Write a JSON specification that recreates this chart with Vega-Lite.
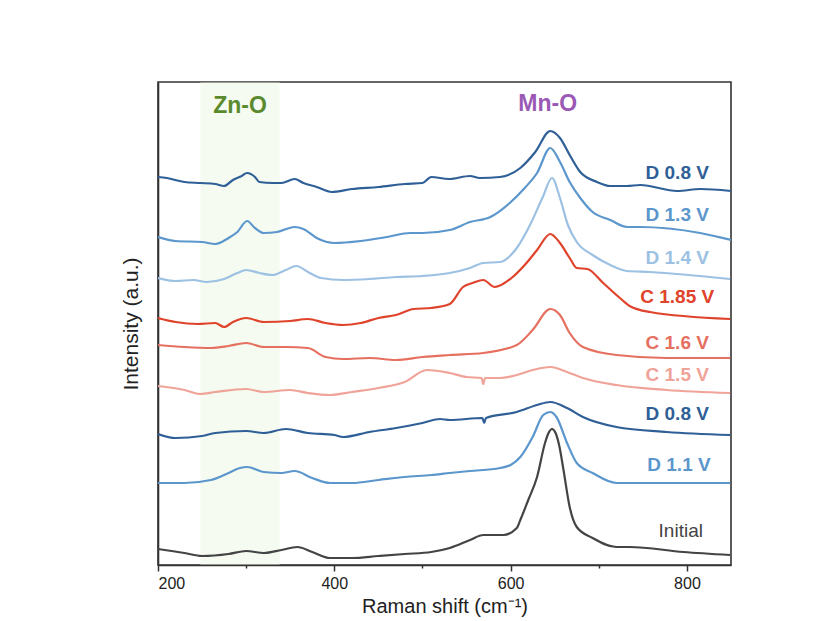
{
  "$schema": "https://vega.github.io/schema/vega-lite/v6.json",
  "width": 573,
  "height": 483,
  "autosize": {"type": "none"},
  "padding": {"left": 158, "top": 82, "right": 101, "bottom": 56},
  "background": "white",
  "config": {
    "font": "Liberation Sans",
    "view": {"stroke": "#333333", "strokeWidth": 1.6},
    "axis": {"domainColor": "#333333", "domainWidth": 1.6, "tickColor": "#333333", "labelColor": "#222222", "titleColor": "#222222", "grid": false}
  },
  "datasets": {
    "spectra": [
      {"s": "a", "x": 200, "y": 388}, {"s": "a", "x": 210, "y": 387}, {"s": "a", "x": 230, "y": 383}, {"s": "a", "x": 248, "y": 382}, {"s": "a", "x": 265, "y": 381}, {"s": "a", "x": 275, "y": 379}, {"s": "a", "x": 285, "y": 385}, {"s": "a", "x": 295, "y": 389}, {"s": "a", "x": 301, "y": 392}, {"s": "a", "x": 310, "y": 388}, {"s": "a", "x": 315, "y": 383}, {"s": "a", "x": 330, "y": 382}, {"s": "a", "x": 340, "y": 382}, {"s": "a", "x": 355, "y": 386}, {"s": "a", "x": 365, "y": 382}, {"s": "a", "x": 380, "y": 378}, {"s": "a", "x": 397, "y": 373}, {"s": "a", "x": 420, "y": 376}, {"s": "a", "x": 450, "y": 378}, {"s": "a", "x": 480, "y": 381}, {"s": "a", "x": 500, "y": 382}, {"s": "a", "x": 510, "y": 388}, {"s": "a", "x": 530, "y": 386}, {"s": "a", "x": 554, "y": 389}, {"s": "a", "x": 565, "y": 387}, {"s": "a", "x": 588, "y": 388}, {"s": "a", "x": 611, "y": 397}, {"s": "a", "x": 628, "y": 413}, {"s": "a", "x": 645, "y": 434}, {"s": "a", "x": 656, "y": 427}, {"s": "a", "x": 667, "y": 410}, {"s": "a", "x": 679, "y": 393}, {"s": "a", "x": 698, "y": 383}, {"s": "a", "x": 713, "y": 379}, {"s": "a", "x": 732, "y": 379}, {"s": "a", "x": 747, "y": 380}, {"s": "a", "x": 789, "y": 374}, {"s": "a", "x": 815, "y": 376}, {"s": "a", "x": 850, "y": 374},

      {"s": "b", "x": 200, "y": 328}, {"s": "b", "x": 220, "y": 324}, {"s": "b", "x": 250, "y": 323}, {"s": "b", "x": 265, "y": 321}, {"s": "b", "x": 280, "y": 327}, {"s": "b", "x": 290, "y": 333}, {"s": "b", "x": 301, "y": 344}, {"s": "b", "x": 310, "y": 337}, {"s": "b", "x": 320, "y": 332}, {"s": "b", "x": 335, "y": 333}, {"s": "b", "x": 355, "y": 338}, {"s": "b", "x": 365, "y": 336}, {"s": "b", "x": 380, "y": 327}, {"s": "b", "x": 400, "y": 322}, {"s": "b", "x": 430, "y": 324}, {"s": "b", "x": 460, "y": 328}, {"s": "b", "x": 486, "y": 332}, {"s": "b", "x": 500, "y": 332}, {"s": "b", "x": 531, "y": 335}, {"s": "b", "x": 554, "y": 343}, {"s": "b", "x": 577, "y": 348}, {"s": "b", "x": 599, "y": 362}, {"s": "b", "x": 616, "y": 377}, {"s": "b", "x": 630, "y": 392}, {"s": "b", "x": 645, "y": 417}, {"s": "b", "x": 656, "y": 403}, {"s": "b", "x": 667, "y": 383}, {"s": "b", "x": 679, "y": 367}, {"s": "b", "x": 693, "y": 353}, {"s": "b", "x": 713, "y": 345}, {"s": "b", "x": 732, "y": 338}, {"s": "b", "x": 747, "y": 338}, {"s": "b", "x": 815, "y": 332}, {"s": "b", "x": 850, "y": 325},

      {"s": "c", "x": 200, "y": 287}, {"s": "c", "x": 220, "y": 284}, {"s": "c", "x": 240, "y": 285}, {"s": "c", "x": 255, "y": 283}, {"s": "c", "x": 275, "y": 286}, {"s": "c", "x": 290, "y": 292}, {"s": "c", "x": 300, "y": 295}, {"s": "c", "x": 315, "y": 292}, {"s": "c", "x": 330, "y": 290}, {"s": "c", "x": 345, "y": 295}, {"s": "c", "x": 357, "y": 299}, {"s": "c", "x": 370, "y": 293}, {"s": "c", "x": 385, "y": 287}, {"s": "c", "x": 410, "y": 285}, {"s": "c", "x": 440, "y": 286}, {"s": "c", "x": 470, "y": 288}, {"s": "c", "x": 500, "y": 289}, {"s": "c", "x": 531, "y": 292}, {"s": "c", "x": 554, "y": 297}, {"s": "c", "x": 569, "y": 302}, {"s": "c", "x": 588, "y": 303}, {"s": "c", "x": 607, "y": 317}, {"s": "c", "x": 622, "y": 340}, {"s": "c", "x": 636, "y": 367}, {"s": "c", "x": 647, "y": 387}, {"s": "c", "x": 656, "y": 367}, {"s": "c", "x": 665, "y": 340}, {"s": "c", "x": 675, "y": 323}, {"s": "c", "x": 693, "y": 310}, {"s": "c", "x": 713, "y": 300}, {"s": "c", "x": 732, "y": 294}, {"s": "c", "x": 758, "y": 293}, {"s": "c", "x": 849, "y": 286},

      {"s": "d", "x": 200, "y": 247}, {"s": "d", "x": 220, "y": 243}, {"s": "d", "x": 245, "y": 241}, {"s": "d", "x": 265, "y": 242}, {"s": "d", "x": 275, "y": 238}, {"s": "d", "x": 285, "y": 243}, {"s": "d", "x": 300, "y": 247}, {"s": "d", "x": 320, "y": 243}, {"s": "d", "x": 350, "y": 244}, {"s": "d", "x": 370, "y": 246}, {"s": "d", "x": 390, "y": 242}, {"s": "d", "x": 410, "y": 240}, {"s": "d", "x": 430, "y": 242}, {"s": "d", "x": 450, "y": 247}, {"s": "d", "x": 470, "y": 250}, {"s": "d", "x": 490, "y": 256}, {"s": "d", "x": 510, "y": 257}, {"s": "d", "x": 531, "y": 261}, {"s": "d", "x": 546, "y": 278}, {"s": "d", "x": 557, "y": 282}, {"s": "d", "x": 569, "y": 285}, {"s": "d", "x": 582, "y": 278}, {"s": "d", "x": 601, "y": 287}, {"s": "d", "x": 616, "y": 300}, {"s": "d", "x": 630, "y": 315}, {"s": "d", "x": 645, "y": 331}, {"s": "d", "x": 656, "y": 322}, {"s": "d", "x": 667, "y": 307}, {"s": "d", "x": 675, "y": 297}, {"s": "d", "x": 687, "y": 296}, {"s": "d", "x": 705, "y": 282}, {"s": "d", "x": 724, "y": 267}, {"s": "d", "x": 735, "y": 259}, {"s": "d", "x": 758, "y": 253}, {"s": "d", "x": 849, "y": 246},

      {"s": "e", "x": 200, "y": 220}, {"s": "e", "x": 230, "y": 218}, {"s": "e", "x": 260, "y": 217}, {"s": "e", "x": 280, "y": 219}, {"s": "e", "x": 300, "y": 222}, {"s": "e", "x": 320, "y": 218}, {"s": "e", "x": 345, "y": 218}, {"s": "e", "x": 370, "y": 217}, {"s": "e", "x": 390, "y": 208}, {"s": "e", "x": 410, "y": 206}, {"s": "e", "x": 440, "y": 207}, {"s": "e", "x": 470, "y": 205}, {"s": "e", "x": 500, "y": 208}, {"s": "e", "x": 531, "y": 210}, {"s": "e", "x": 569, "y": 212}, {"s": "e", "x": 607, "y": 220}, {"s": "e", "x": 625, "y": 235}, {"s": "e", "x": 645, "y": 256}, {"s": "e", "x": 656, "y": 250}, {"s": "e", "x": 667, "y": 232}, {"s": "e", "x": 682, "y": 218}, {"s": "e", "x": 720, "y": 210}, {"s": "e", "x": 777, "y": 207}, {"s": "e", "x": 849, "y": 207},

      {"s": "f", "x": 200, "y": 179}, {"s": "f", "x": 230, "y": 175}, {"s": "f", "x": 248, "y": 171}, {"s": "f", "x": 265, "y": 173}, {"s": "f", "x": 300, "y": 176}, {"s": "f", "x": 320, "y": 173}, {"s": "f", "x": 350, "y": 175}, {"s": "f", "x": 370, "y": 172}, {"s": "f", "x": 395, "y": 170}, {"s": "f", "x": 420, "y": 173}, {"s": "f", "x": 450, "y": 177}, {"s": "f", "x": 480, "y": 183}, {"s": "f", "x": 505, "y": 195}, {"s": "f", "x": 531, "y": 192}, {"s": "f", "x": 550, "y": 188}, {"s": "f", "x": 567, "y": 187}, {"s": "f", "x": 569, "y": 181}, {"s": "f", "x": 571, "y": 187}, {"s": "f", "x": 588, "y": 187}, {"s": "f", "x": 607, "y": 190}, {"s": "f", "x": 625, "y": 195}, {"s": "f", "x": 645, "y": 198}, {"s": "f", "x": 664, "y": 193}, {"s": "f", "x": 682, "y": 187}, {"s": "f", "x": 720, "y": 180}, {"s": "f", "x": 777, "y": 175}, {"s": "f", "x": 849, "y": 172},

      {"s": "g", "x": 200, "y": 131}, {"s": "g", "x": 220, "y": 127}, {"s": "g", "x": 250, "y": 129}, {"s": "g", "x": 265, "y": 132}, {"s": "g", "x": 300, "y": 134}, {"s": "g", "x": 320, "y": 132}, {"s": "g", "x": 345, "y": 136}, {"s": "g", "x": 370, "y": 132}, {"s": "g", "x": 400, "y": 130}, {"s": "g", "x": 410, "y": 128}, {"s": "g", "x": 440, "y": 133}, {"s": "g", "x": 470, "y": 137}, {"s": "g", "x": 500, "y": 142}, {"s": "g", "x": 520, "y": 146}, {"s": "g", "x": 531, "y": 145}, {"s": "g", "x": 568, "y": 147}, {"s": "g", "x": 570, "y": 142}, {"s": "g", "x": 572, "y": 147}, {"s": "g", "x": 607, "y": 153}, {"s": "g", "x": 630, "y": 160}, {"s": "g", "x": 645, "y": 163}, {"s": "g", "x": 664, "y": 157}, {"s": "g", "x": 682, "y": 148}, {"s": "g", "x": 720, "y": 138}, {"s": "g", "x": 777, "y": 133}, {"s": "g", "x": 849, "y": 130},

      {"s": "h", "x": 200, "y": 82}, {"s": "h", "x": 230, "y": 82}, {"s": "h", "x": 260, "y": 85}, {"s": "h", "x": 280, "y": 92}, {"s": "h", "x": 293, "y": 97}, {"s": "h", "x": 301, "y": 98}, {"s": "h", "x": 320, "y": 93}, {"s": "h", "x": 340, "y": 92}, {"s": "h", "x": 355, "y": 94}, {"s": "h", "x": 375, "y": 87}, {"s": "h", "x": 395, "y": 82}, {"s": "h", "x": 420, "y": 82}, {"s": "h", "x": 450, "y": 85}, {"s": "h", "x": 480, "y": 88}, {"s": "h", "x": 510, "y": 90}, {"s": "h", "x": 531, "y": 92}, {"s": "h", "x": 554, "y": 94}, {"s": "h", "x": 588, "y": 97}, {"s": "h", "x": 600, "y": 100}, {"s": "h", "x": 611, "y": 108}, {"s": "h", "x": 625, "y": 128}, {"s": "h", "x": 637, "y": 150}, {"s": "h", "x": 645, "y": 153}, {"s": "h", "x": 652, "y": 148}, {"s": "h", "x": 664, "y": 122}, {"s": "h", "x": 675, "y": 102}, {"s": "h", "x": 693, "y": 92}, {"s": "h", "x": 720, "y": 82}, {"s": "h", "x": 735, "y": 82}, {"s": "h", "x": 849, "y": 82},

      {"s": "i", "x": 200, "y": 16}, {"s": "i", "x": 230, "y": 12}, {"s": "i", "x": 250, "y": 9}, {"s": "i", "x": 280, "y": 11}, {"s": "i", "x": 300, "y": 14}, {"s": "i", "x": 320, "y": 12}, {"s": "i", "x": 340, "y": 15}, {"s": "i", "x": 358, "y": 18}, {"s": "i", "x": 375, "y": 13}, {"s": "i", "x": 395, "y": 7}, {"s": "i", "x": 420, "y": 7}, {"s": "i", "x": 450, "y": 9}, {"s": "i", "x": 480, "y": 11}, {"s": "i", "x": 510, "y": 13}, {"s": "i", "x": 531, "y": 17}, {"s": "i", "x": 554, "y": 25}, {"s": "i", "x": 569, "y": 30}, {"s": "i", "x": 592, "y": 30}, {"s": "i", "x": 607, "y": 37}, {"s": "i", "x": 611, "y": 45}, {"s": "i", "x": 620, "y": 65}, {"s": "i", "x": 630, "y": 88}, {"s": "i", "x": 639, "y": 122}, {"s": "i", "x": 643, "y": 132}, {"s": "i", "x": 647, "y": 136}, {"s": "i", "x": 651, "y": 132}, {"s": "i", "x": 655, "y": 120}, {"s": "i", "x": 660, "y": 95}, {"s": "i", "x": 667, "y": 58}, {"s": "i", "x": 675, "y": 38}, {"s": "i", "x": 693, "y": 27}, {"s": "i", "x": 720, "y": 18}, {"s": "i", "x": 735, "y": 18}, {"s": "i", "x": 796, "y": 13}, {"s": "i", "x": 849, "y": 10}
    ],
    "labels": [
      {"s": "a", "label": "D 0.8 V", "x": 789, "y": 392},
      {"s": "b", "label": "D 1.3 V", "x": 789, "y": 350},
      {"s": "c", "label": "D 1.4 V", "x": 789, "y": 307},
      {"s": "d", "label": "C 1.85 V", "x": 789, "y": 268},
      {"s": "e", "label": "C 1.6 V", "x": 789, "y": 222},
      {"s": "f", "label": "C 1.5 V", "x": 789, "y": 190},
      {"s": "g", "label": "D 0.8 V", "x": 789, "y": 151},
      {"s": "h", "label": "D 1.1 V", "x": 791, "y": 100}
    ],
    "initial": [{"s": "i", "label": "Initial", "x": 793, "y": 34}],
    "bands": [{"x1": 248, "x2": 338}],
    "notes": [
      {"label": "Zn-O", "x": 293, "y": 459, "c": "#5b8a2d"},
      {"label": "Mn-O", "x": 642, "y": 461, "c": "#9b59b6"}
    ]
  },
  "layer": [
    {
      "data": {"name": "bands"},
      "mark": {"type": "rect", "color": "#e6f4dc", "opacity": 0.4},
      "encoding": {
        "x": {"field": "x1", "type": "quantitative", "scale": {"domain": [200, 850]}},
        "x2": {"field": "x2"}
      }
    },
    {
      "data": {"name": "spectra"},
      "mark": {"type": "line", "strokeWidth": 2.2, "clip": true, "interpolate": "monotone"},
      "encoding": {
        "x": {
          "field": "x", "type": "quantitative",
          "scale": {"domain": [200, 850], "nice": false, "zero": false},
          "axis": {
            "values": [200, 300, 400, 500, 600, 700, 800],
            "labelExpr": "datum.value % 200 === 0 ? datum.label : ''",
            "tickSize": {"condition": {"test": "datum.value % 200 === 0", "value": 6}, "value": 3},
            "tickWidth": 1.5,
            "labelFontSize": 16,
            "labelPadding": 4,
            "title": "Raman shift (cm⁻¹)",
            "titleFontSize": 20,
            "titleFontWeight": "normal",
            "titlePadding": 5
          }
        },
        "y": {
          "field": "y", "type": "quantitative",
          "scale": {"domain": [0, 483], "nice": false},
          "axis": {
            "ticks": false, "labels": false,
            "title": "Intensity (a.u.)",
            "titleFontSize": 21,
            "titleFontWeight": "normal",
            "titlePadding": 17
          }
        },
        "color": {
          "field": "s", "type": "nominal", "legend": null,
          "scale": {
            "domain": ["a", "b", "c", "d", "e", "f", "g", "h", "i"],
            "range": ["#2f5f97", "#5b96cc", "#9dc1e3", "#e0432b", "#e6705f", "#f0a398", "#2f5f97", "#5b96cc", "#444444"]
          }
        },
        "detail": {"field": "s"}
      }
    },
    {
      "data": {"name": "labels"},
      "mark": {"type": "text", "fontSize": 19, "fontWeight": "bold", "align": "center", "baseline": "middle"},
      "encoding": {
        "x": {"field": "x", "type": "quantitative"},
        "y": {"field": "y", "type": "quantitative"},
        "text": {"field": "label"},
        "color": {"field": "s", "type": "nominal", "legend": null}
      }
    },
    {
      "data": {"name": "initial"},
      "mark": {"type": "text", "fontSize": 19, "fontWeight": "normal", "align": "center", "baseline": "middle", "color": "#444444"},
      "encoding": {
        "x": {"field": "x", "type": "quantitative"},
        "y": {"field": "y", "type": "quantitative"},
        "text": {"field": "label"}
      }
    },
    {
      "data": {"name": "notes"},
      "mark": {"type": "text", "fontSize": 23, "fontWeight": "bold", "align": "center", "baseline": "middle"},
      "encoding": {
        "x": {"field": "x", "type": "quantitative"},
        "y": {"field": "y", "type": "quantitative"},
        "text": {"field": "label"},
        "color": {"field": "c", "type": "nominal", "scale": null}
      }
    }
  ]
}
